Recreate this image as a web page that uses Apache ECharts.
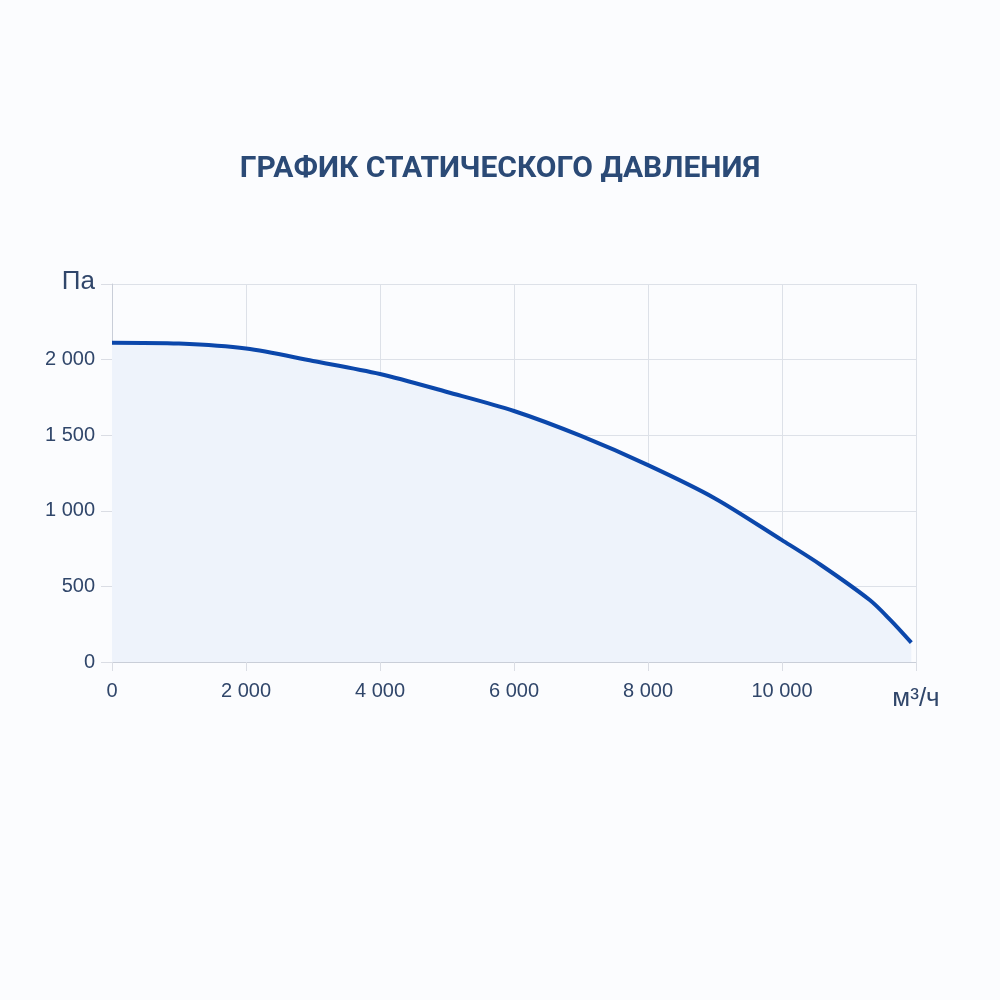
<!DOCTYPE html>
<html>
<head>
<meta charset="utf-8">
<script src="https://cdn.jsdelivr.net/npm/echarts@6/dist/echarts.min.js"></script>
<style>
  html, body { margin: 0; padding: 0; background: #fbfcfe; }
  #chart { width: 1000px; height: 1000px; }
</style>
</head>
<body>
<div id="chart"></div>
<script>
// расход, м³/ч
let flow = [0, 1000, 2000, 3000, 4000, 5000, 6000, 7000, 8000, 9000, 10000, 10570, 11310, 11620, 11930];
// статическое давление, Па
let pressure = [2112, 2106, 2073, 1991, 1905, 1786, 1660, 1495, 1302, 1082, 806, 645, 410, 277, 128];
let xTicks = [0, 2000, 4000, 6000, 8000, 10000, 12000];
let yTicks = [0, 500, 1000, 1500, 2000, 2500];
let xUnit = 'м³/ч';
let yUnit = 'Па';

let points = flow.map((f, i) => [f, pressure[i]]);

function fmt(v) {
    return String(v).replace(/\B(?=(\d{3})+(?!\d))/g, ' ');
}

let myChart = echarts.init(document.getElementById('chart'));
let labelColor = '#30466a';
let labelFont = 'Liberation Sans';

let option = {
    backgroundColor: '#fbfcfe',
    title: {
        text: 'ГРАФИК СТАТИЧЕСКОГО ДАВЛЕНИЯ',
        left: 'center',
        top: 149,
        textStyle: {
            fontFamily: 'Roboto',
            fontWeight: 'bold',
            fontSize: 30,
            color: '#2b4a76'
        }
    },
    grid: {
        left: 112,
        right: 84,
        top: 284,
        bottom: 338
    },
    xAxis: {
        type: 'value',
        min: xTicks[0],
        max: xTicks[xTicks.length - 1],
        interval: 2000,
        axisLine: { show: true, lineStyle: { color: '#c9ced8', width: 1 } },
        axisTick: { show: true, length: 9, lineStyle: { color: '#dadde4' } },
        splitLine: { show: true, lineStyle: { color: '#dde1e8' } },
        axisLabel: {
            margin: 19,
            fontFamily: labelFont,
            fontSize: 20,
            color: labelColor,
            formatter: function (v) {
                return v === xTicks[xTicks.length - 1] ? '{u|' + xUnit + '}' : fmt(v);
            },
            rich: {
                u: { fontFamily: labelFont, fontSize: 26, color: labelColor, padding: [5, 0, 0, 0] }
            }
        }
    },
    yAxis: {
        type: 'value',
        min: yTicks[0],
        max: yTicks[yTicks.length - 1],
        interval: 500,
        axisLine: { show: true, lineStyle: { color: '#c9ced8', width: 1 } },
        axisTick: { show: true, length: 11, lineStyle: { color: '#dadde4' } },
        splitLine: { show: true, lineStyle: { color: '#dde1e8' } },
        axisLabel: {
            margin: 17,
            fontFamily: labelFont,
            fontSize: 20,
            color: labelColor,
            formatter: function (v) {
                return v === yTicks[yTicks.length - 1] ? '{u|' + yUnit + '}' : fmt(v);
            },
            rich: {
                u: { fontFamily: labelFont, fontSize: 26, color: labelColor, padding: [0, 0, 4, 0] }
            }
        }
    },
    series: [{
        type: 'line',
        data: points,
        smooth: 0.3,
        showSymbol: false,
        lineStyle: { color: '#0b47ab', width: 4 },
        areaStyle: { color: '#eef3fb', opacity: 1 }
    }]
};
myChart.setOption(option);
</script>
</body>
</html>
